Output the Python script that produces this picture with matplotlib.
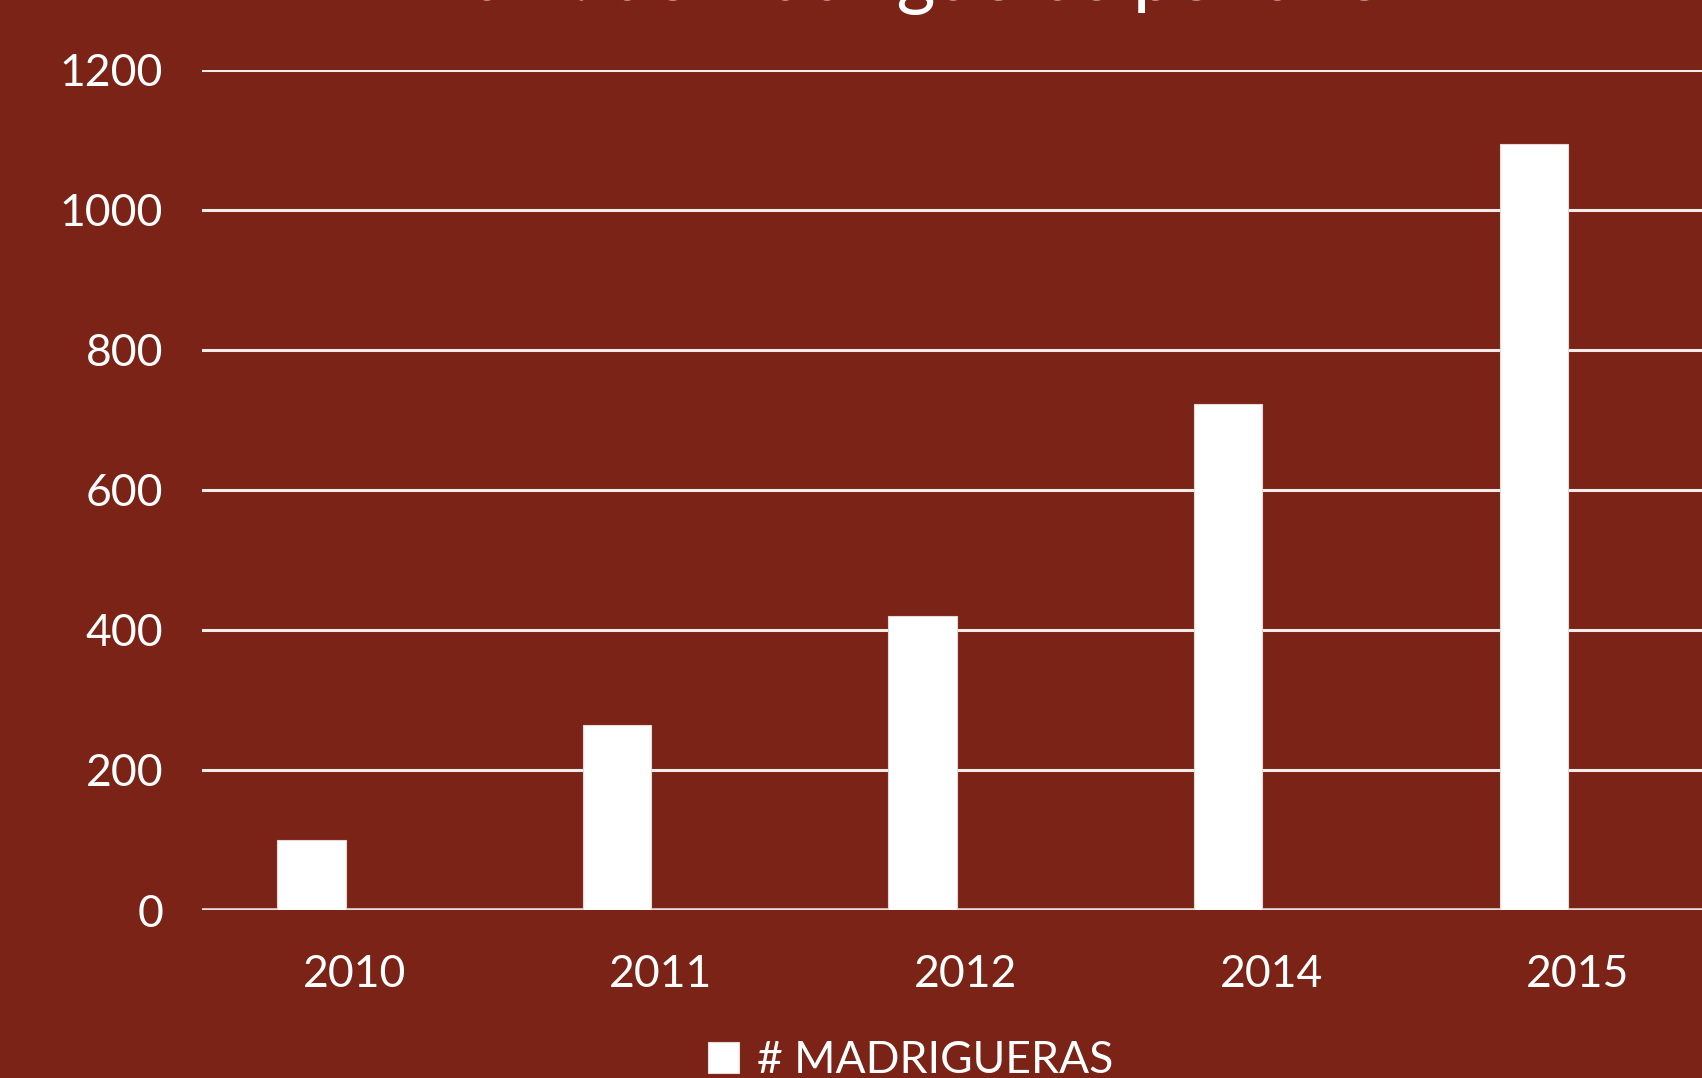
import matplotlib
matplotlib.use('Agg')
import matplotlib.pyplot as plt
import numpy as np

years = ['2010', '2011', '2012', '2014', '2015']
madrigueras = [100, 264, 420, 722, 1093]
yticks = [0, 200, 400, 600, 800, 1000, 1200]

bg = '#7B2316'
plt.rcParams['font.family'] = ['Lato', 'DejaVu Sans']

fig = plt.figure(figsize=(17.02, 10.78), dpi=100)
fig.patch.set_facecolor(bg)
ax = fig.add_axes([0.1187, 0.1558, 0.8978, 0.7797])
ax.set_facecolor(bg)

x = np.arange(len(years))
ax.bar(x - 0.142, madrigueras, width=0.224, color='white', edgecolor='#E8D8D5',
       linewidth=0.8, zorder=3, label='# MADRIGUERAS')

ax.set_xlim(-0.5, 4.5)
ax.set_ylim(0, 1200)
ax.set_yticks(yticks)
ax.set_yticklabels([str(v) for v in yticks])
ax.set_xticks(x)
ax.set_xticklabels(years)
ax.yaxis.grid(True, color='#F2ECEB', linewidth=2.2, zorder=1)
ax.set_axisbelow(True)
for s in ax.spines.values():
    s.set_visible(False)
ax.axhline(0, color='#E6DEDD', linewidth=2.6, zorder=2)
ax.tick_params(axis='both', length=0, colors='white', labelsize=32)
ax.tick_params(axis='y', pad=28)
ax.tick_params(axis='x', pad=32)

fig.text(0.528, 1.0, 'Núm. de madrigueras por año', color='white', fontsize=54,
         ha='center', va='baseline')

leg = fig.legend(loc='center', bbox_to_anchor=(0.535, 0.016), frameon=False,
                 fontsize=32, labelcolor='white', handlelength=0.7, handleheight=0.7,
                 handletextpad=0.4)

fig.savefig('out.png', dpi=100, facecolor=bg)
